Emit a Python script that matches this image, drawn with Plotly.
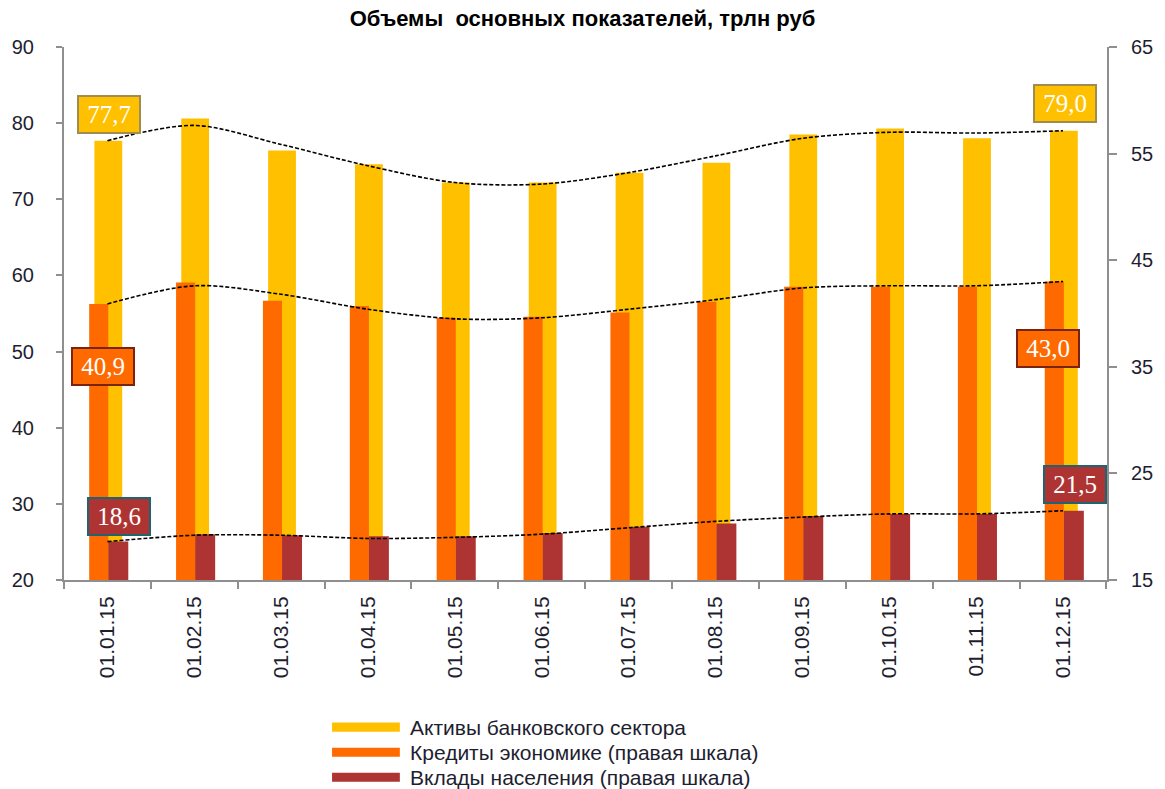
import plotly.graph_objects as go

# data
dates = ["01.01.15", "01.02.15", "01.03.15", "01.04.15", "01.05.15", "01.06.15",
         "01.07.15", "01.08.15", "01.09.15", "01.10.15", "01.11.15", "01.12.15"]
assets = [77.7, 80.6, 76.4, 74.6, 72.2, 72.2, 73.5, 74.8, 78.5, 79.3, 78.0, 79.0]
credits = [40.9, 42.9, 41.2, 40.7, 39.6, 39.7, 40.1, 41.1, 42.5, 42.5, 42.5, 43.0]
deposits = [18.6, 19.3, 19.2, 19.1, 19.1, 19.4, 20.0, 20.3, 21.0, 21.2, 21.2, 21.5]

# smoothed dotted trend lines (values read at each date)
assets_trend = [77.7, 79.7, 77.2, 74.4, 72.2, 72.0, 73.5, 75.7, 78.0, 78.8, 78.7, 79.0]
credits_trend = [40.9, 42.6, 41.8, 40.4, 39.5, 39.6, 40.4, 41.3, 42.4, 42.6, 42.6, 43.0]
deposits_trend = [18.6, 19.2, 19.2, 18.9, 19.0, 19.3, 19.9, 20.5, 20.9, 21.2, 21.2, 21.5]

names = ["Активы банковского сектора",
         "Кредиты экономике (правая шкала)",
         "Вклады населения (правая шкала)"]

YELLOW = "#FFC000"
ORANGE = "#FF6A00"
DARKRED = "#AE3434"
TXT = "#1e1e30"
SANS = "Liberation Sans, Arial, sans-serif"
SERIF = "Liberation Serif, Times New Roman, serif"

fig = go.Figure()

fig.add_trace(go.Bar(x=dates, y=assets, name=names[0], marker_color=YELLOW,
                     marker_line_width=0, offset=-0.15, width=0.32, yaxis="y"))
fig.add_trace(go.Bar(x=dates, y=credits, name=names[1], marker_color=ORANGE,
                     marker_line_width=0, offset=-0.21, width=0.22, yaxis="y2"))
fig.add_trace(go.Bar(x=dates, y=deposits, name=names[2], marker_color=DARKRED,
                     marker_line_width=0, offset=0.01, width=0.23, yaxis="y2"))

dash = dict(color="black", width=1.6, dash="4px,2px", shape="spline", smoothing=0.9)
fig.add_trace(go.Scatter(x=dates, y=assets_trend, mode="lines", line=dash,
                         yaxis="y", showlegend=False, hoverinfo="skip"))
fig.add_trace(go.Scatter(x=dates, y=credits_trend, mode="lines", line=dash,
                         yaxis="y2", showlegend=False, hoverinfo="skip"))
fig.add_trace(go.Scatter(x=dates, y=deposits_trend, mode="lines", line=dash,
                         yaxis="y2", showlegend=False, hoverinfo="skip"))


def value_label(i, values, yref, fill, border, xshift, yshift):
    fig.add_annotation(
        x=dates[i], y=values[i], xref="x", yref=yref,
        text=f"{values[i]:.1f}".replace(".", ","),
        showarrow=False, xshift=xshift, yshift=yshift,
        font=dict(family=SERIF, size=25, color="white"),
        bgcolor=fill, bordercolor=border, borderwidth=2, borderpad=2,
        width=56, height=31,
    )


value_label(0, assets, "y", YELLOW, "#A08C4E", 2, 26)
value_label(11, assets, "y", YELLOW, "#A08C4E", 2, 27)
value_label(0, credits, "y2", ORANGE, "#7A2410", -4, -63)
value_label(11, credits, "y2", ORANGE, "#7A2410", -15, -67)
value_label(0, deposits, "y2", DARKRED, "#1F6470", 12, 25)
value_label(11, deposits, "y2", DARKRED, "#1F6470", 12, 26)

# legend drawn below the chart: wide colour swatch + text
legend_colors = [YELLOW, ORANGE, DARKRED]
row_y = [-0.276, -0.323, -0.370]
for name, col, yy in zip(names, legend_colors, row_y):
    fig.add_shape(type="rect", xref="paper", yref="paper",
                  x0=0.257, x1=0.322, y0=yy - 0.0085, y1=yy + 0.0085,
                  fillcolor=col, line_width=0)
    fig.add_annotation(x=0.330, y=yy, xref="paper", yref="paper",
                       text=name, showarrow=False, xanchor="left", yanchor="middle",
                       font=dict(family=SANS, size=21, color=TXT))

axis_line = dict(showline=True, linecolor="#8f8f8f", linewidth=2,
                 ticks="outside", tickcolor="#8f8f8f", tickwidth=2,
                 showgrid=False, zeroline=False)

fig.update_layout(
    width=1165, height=789,
    plot_bgcolor="white", paper_bgcolor="white",
    margin=dict(l=61, r=53, t=47, b=209),
    barmode="overlay",
    showlegend=False,
    title=dict(text="<b>Объемы  основных показателей, трлн руб</b>",
               x=0.5, xanchor="center", y=0.977, yanchor="middle",
               font=dict(family=SANS, size=22, color="black")),
    xaxis=dict(type="category", tickson="boundaries", ticklen=7,
               tickangle=-90, ticklabelstandoff=6,
               tickfont=dict(family=SANS, size=21, color=TXT), **axis_line),
    yaxis=dict(range=[20, 90], dtick=10, ticklen=6, ticklabelstandoff=18,
               tickfont=dict(family=SANS, size=20, color=TXT), **axis_line),
    yaxis2=dict(range=[15, 65], tick0=15, dtick=10, ticklen=8, side="right",
                overlaying="y", ticklabelstandoff=10,
                tickfont=dict(family=SANS, size=20, color=TXT), **axis_line),
)

fig.write_html("out.html", config={"displayModeBar": False},
               post_script="document.body.style.margin='0';")
